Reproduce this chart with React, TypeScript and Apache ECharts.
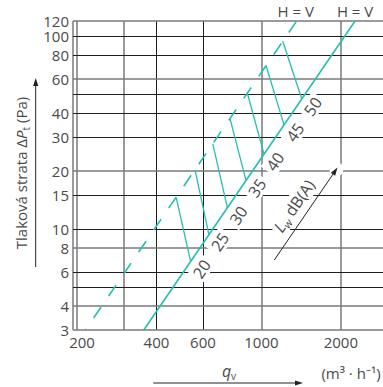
import React, { useEffect, useRef } from "react";
import * as echarts from "echarts";

// ---- axes ----
const X_MIN = 193;
const X_MAX = 2890;
const Y_MIN = 3;
const Y_MAX = 120;
const X_GRID_VALUES = [200, 300, 400, 600, 1000, 2000];
const X_DARK_VALUES = [400, 600];
const X_TICK_LABELS = ["200", "400", "600", "1000", "2000"];
const Y_GRID_VALUES = [4, 5, 6, 8, 10, 15, 20, 30, 40, 50, 60, 80, 100, 120];
const Y_DARK_VALUES = [5, 6, 10, 15, 30, 40, 50, 80, 100];
const Y_TICK_LABELS = ["3", "4", "6", "8", "10", "15", "20", "30", "40", "60", "80", "100", "120"];

// ---- curves (q in m3/h, P in Pa) ----
const SOLID_Q = [358, 2265];
const SOLID_P = [3, 120];
const DASHED_Q = [215, 1360];
const DASHED_P = [3, 120];

// ---- noise level hatch lines ----
const LEVELS = ["20", "25", "30", "35", "40", "45", "50"];
const HATCH_TOP_Q = [475, 560, 654, 760, 884, 1041, 1204];
const HATCH_TOP_P = [14.6, 20.3, 27.7, 37.4, 50.8, 70.5, 94.5];
const HATCH_BOT_Q = [539, 632, 743, 874, 1023, 1218, 1422];
const HATCH_BOT_P = [6.8, 9.4, 12.9, 17.9, 24.5, 34.7, 47.3];

const CYAN = "#27bdb0";
const TEXT = "#4a4a4a";
const FONT = '"Open Sans", "Noto Sans", sans-serif';

// small label nudges (padding) to keep neighbouring tick texts apart
const LABEL_PAD: Record<string, number[]> = {
  x200: [0, 0, 0, 10],
  y120: [0, 0, 5, 0],
  y100: [5, 0, 0, 0],
  y3: [0, 0, 2, 0],
};

export default function App() {
  const ref = useRef<HTMLDivElement>(null);

  useEffect(() => {
    const el = ref.current!;
    const chart = echarts.init(el, null, { renderer: "svg" });

    const dark = { color: "#1e1e1e", width: 1, type: "solid" };
    const gray = { color: "#7a7a7a", width: 1.5, type: "solid" };
    const labelBase = { color: TEXT, fontSize: 15, fontFamily: FONT, lineHeight: 11 };

    const markData: any[] = [];
    markData.push({ xAxis: X_MIN, lineStyle: gray, label: { show: false } });
    X_GRID_VALUES.forEach((v) => {
      const lab = X_TICK_LABELS.includes(String(v));
      markData.push({
        xAxis: v,
        lineStyle: X_DARK_VALUES.includes(v) ? dark : gray,
        label: lab
          ? {
              show: true,
              position: "start",
              distance: 6,
              formatter: String(v),
              padding: LABEL_PAD["x" + v] || 0,
              ...labelBase,
            }
          : { show: false },
      });
    });
    [Y_MIN, ...Y_GRID_VALUES].forEach((v) => {
      const lab = Y_TICK_LABELS.includes(String(v));
      markData.push({
        yAxis: v,
        lineStyle: Y_DARK_VALUES.includes(v) ? dark : gray,
        label: lab
          ? {
              show: true,
              position: "start",
              distance: 4,
              formatter: String(v),
              padding: LABEL_PAD["y" + v] || 0,
              ...labelBase,
            }
          : { show: false },
      });
    });

    const hatchSeries = LEVELS.map((lv, i) => ({
      type: "line",
      name: "Lw " + lv,
      data: [
        [HATCH_TOP_Q[i], HATCH_TOP_P[i]],
        [HATCH_BOT_Q[i], HATCH_BOT_P[i]],
      ],
      showSymbol: false,
      symbol: "none",
      lineStyle: { color: CYAN, width: 1.3 },
      z: 3,
      silent: true,
    }));

    const option: any = {
      animation: false,
      grid: { left: 73, top: 21, width: 310, height: 309, containLabel: false },
      xAxis: {
        type: "log",
        logBase: 10,
        min: X_MIN,
        max: X_MAX,
        axisLine: { show: false },
        axisTick: { show: false },
        axisLabel: { show: false },
        splitLine: { show: false },
      },
      yAxis: {
        type: "log",
        logBase: 10,
        min: Y_MIN,
        max: Y_MAX,
        axisLine: { show: false },
        axisTick: { show: false },
        axisLabel: { show: false },
        splitLine: { show: false },
      },
      series: [
        {
          type: "line",
          name: "grid",
          data: [],
          z: 1,
          markLine: {
            silent: true,
            z: 1,
            animation: false,
            symbol: ["none", "none"],
            data: markData,
          },
        },
        {
          type: "line",
          name: "H = V dashed",
          data: DASHED_Q.map((q, i) => [q, DASHED_P[i]]),
          showSymbol: false,
          symbol: "none",
          lineStyle: { color: CYAN, width: 1.6, type: [13.2, 13.4], dashOffset: 12 },
          z: 3,
          silent: true,
        },
        {
          type: "line",
          name: "H = V",
          data: SOLID_Q.map((q, i) => [q, SOLID_P[i]]),
          showSymbol: false,
          symbol: "none",
          lineStyle: { color: CYAN, width: 1.6 },
          z: 3,
          silent: true,
        },
        ...hatchSeries,
      ],
    };
    chart.setOption(option);

    const px = (q: number, p: number) => chart.convertToPixel({ gridIndex: 0 }, [q, p]) as number[];
    const s0 = px(SOLID_Q[0], SOLID_P[0]);
    const s1 = px(SOLID_Q[1], SOLID_P[1]);
    const d1 = px(DASHED_Q[1], DASHED_P[1]);
    const ang = Math.atan2(-(s1[1] - s0[1]), s1[0] - s0[0]);
    const nx = Math.sin(ang);
    const ny = Math.cos(ang);
    const ux = Math.cos(ang);
    const uy = -Math.sin(ang);

    const txt = (x: number, y: number, text: string, extra: any = {}, rotation = 0, z = 2) => ({
      type: "text",
      x,
      y,
      rotation,
      z,
      silent: true,
      style: {
        text,
        font: `15px ${FONT}`,
        fill: TEXT,
        textAlign: "center",
        textVerticalAlign: "middle",
        align: "center",
        verticalAlign: "middle",
        ...extra,
      },
    });

    const arrowHead = (tx: number, ty: number, dx: number, dy: number, len: number, hw: number, color: string) => {
      const bx = tx - dx * len;
      const by = ty - dy * len;
      const px2 = -dy;
      const py2 = dx;
      return {
        type: "polygon",
        z: 4,
        silent: true,
        shape: {
          points: [
            [tx, ty],
            [bx + px2 * hw, by + py2 * hw],
            [bx - px2 * hw, by - py2 * hw],
          ],
        },
        style: { fill: color },
      };
    };

    const elements: any[] = [];
    // level labels
    LEVELS.forEach((lv, i) => {
      const p = px(HATCH_BOT_Q[i], HATCH_BOT_P[i]);
      elements.push(
        txt(p[0] + 13.3 * nx, p[1] + 13.3 * ny, lv, { font: `16px ${FONT}`, backgroundColor: "#fff", padding: [1, 3] }, ang)
      );
    });
    // H = V labels
    elements.push(txt(d1[0] - 1, 11, "H = V"));
    elements.push(txt(s1[0], 11, "H = V"));

    // Lw dB(A) arrow
    const a0 = [274.3, 260];
    const aLen = Math.hypot(337.7 - 274.3, 167.7 - 260);
    const a1 = [a0[0] + ux * aLen, a0[1] + uy * aLen];
    elements.push({
      type: "circle",
      z: 2,
      silent: true,
      shape: { cx: a1[0] - ux * 2, cy: a1[1] - uy * 2, r: 7 },
      style: { fill: "#fff" },
    });
    elements.push({
      type: "line",
      z: 4,
      silent: true,
      shape: { x1: a0[0], y1: a0[1], x2: a1[0] - ux * 4, y2: a1[1] - uy * 4 },
      style: { stroke: "#222", lineWidth: 1 },
    });
    elements.push(arrowHead(a1[0], a1[1], ux, uy, 8, 2.6, "#222"));
    elements.push(
      txt(294, 206, "{i|L}{w|w} dB(A)", {
        font: `16px ${FONT}`,
        backgroundColor: "#fff",
        padding: [0, 2],
        lineHeight: 20,
        rich: {
          i: { fontStyle: "italic", fontSize: 16, fontFamily: FONT, fill: TEXT, lineHeight: 20 },
          w: { fontStyle: "italic", fontSize: 11, fontFamily: FONT, fill: TEXT, lineHeight: 11, verticalAlign: "bottom" },
        },
      }, ang)
    );

    // y axis title + arrow
    elements.push(
      txt(21, 173, "Tlaková strata Δ{i|P}{s|t} (Pa)", {
        lineHeight: 20,
        rich: {
          i: { fontStyle: "italic", fontSize: 15, fontFamily: FONT, fill: TEXT, lineHeight: 20 },
          s: { fontSize: 10, fontFamily: FONT, fill: TEXT, lineHeight: 10, verticalAlign: "bottom" },
        },
      }, Math.PI / 2)
    );
    elements.push({
      type: "line",
      z: 4,
      silent: true,
      shape: { x1: 35.7, y1: 267, x2: 35.7, y2: 84 },
      style: { stroke: "#222", lineWidth: 1 },
    });
    elements.push(arrowHead(35.7, 78, 0, -1, 8, 2.6, "#222"));

    // x axis title + arrow
    elements.push(
      txt(229, 371, "{q|q}{v|v}", {
        lineHeight: 20,
        rich: {
          q: { fontStyle: "italic", fontSize: 16, fontFamily: FONT, fill: TEXT, lineHeight: 20 },
          v: { fontSize: 10, fontFamily: FONT, fill: TEXT, lineHeight: 10, verticalAlign: "bottom" },
        },
      })
    );
    elements.push({
      type: "line",
      z: 4,
      silent: true,
      shape: { x1: 153.3, y1: 383, x2: 297, y2: 383 },
      style: { stroke: "#222", lineWidth: 1 },
    });
    elements.push(arrowHead(303, 383, 1, 0, 8, 2.6, "#222"));
    elements.push(txt(351, 373, "(m³ · h⁻¹)"));

    chart.setOption({ graphic: { elements } });

    return () => {
      chart.dispose();
    };
  }, []);

  return (
    <div
      ref={ref}
      style={{ position: "fixed", left: 0, top: 0, width: 383, height: 387, background: "#fff" }}
    />
  );
}
